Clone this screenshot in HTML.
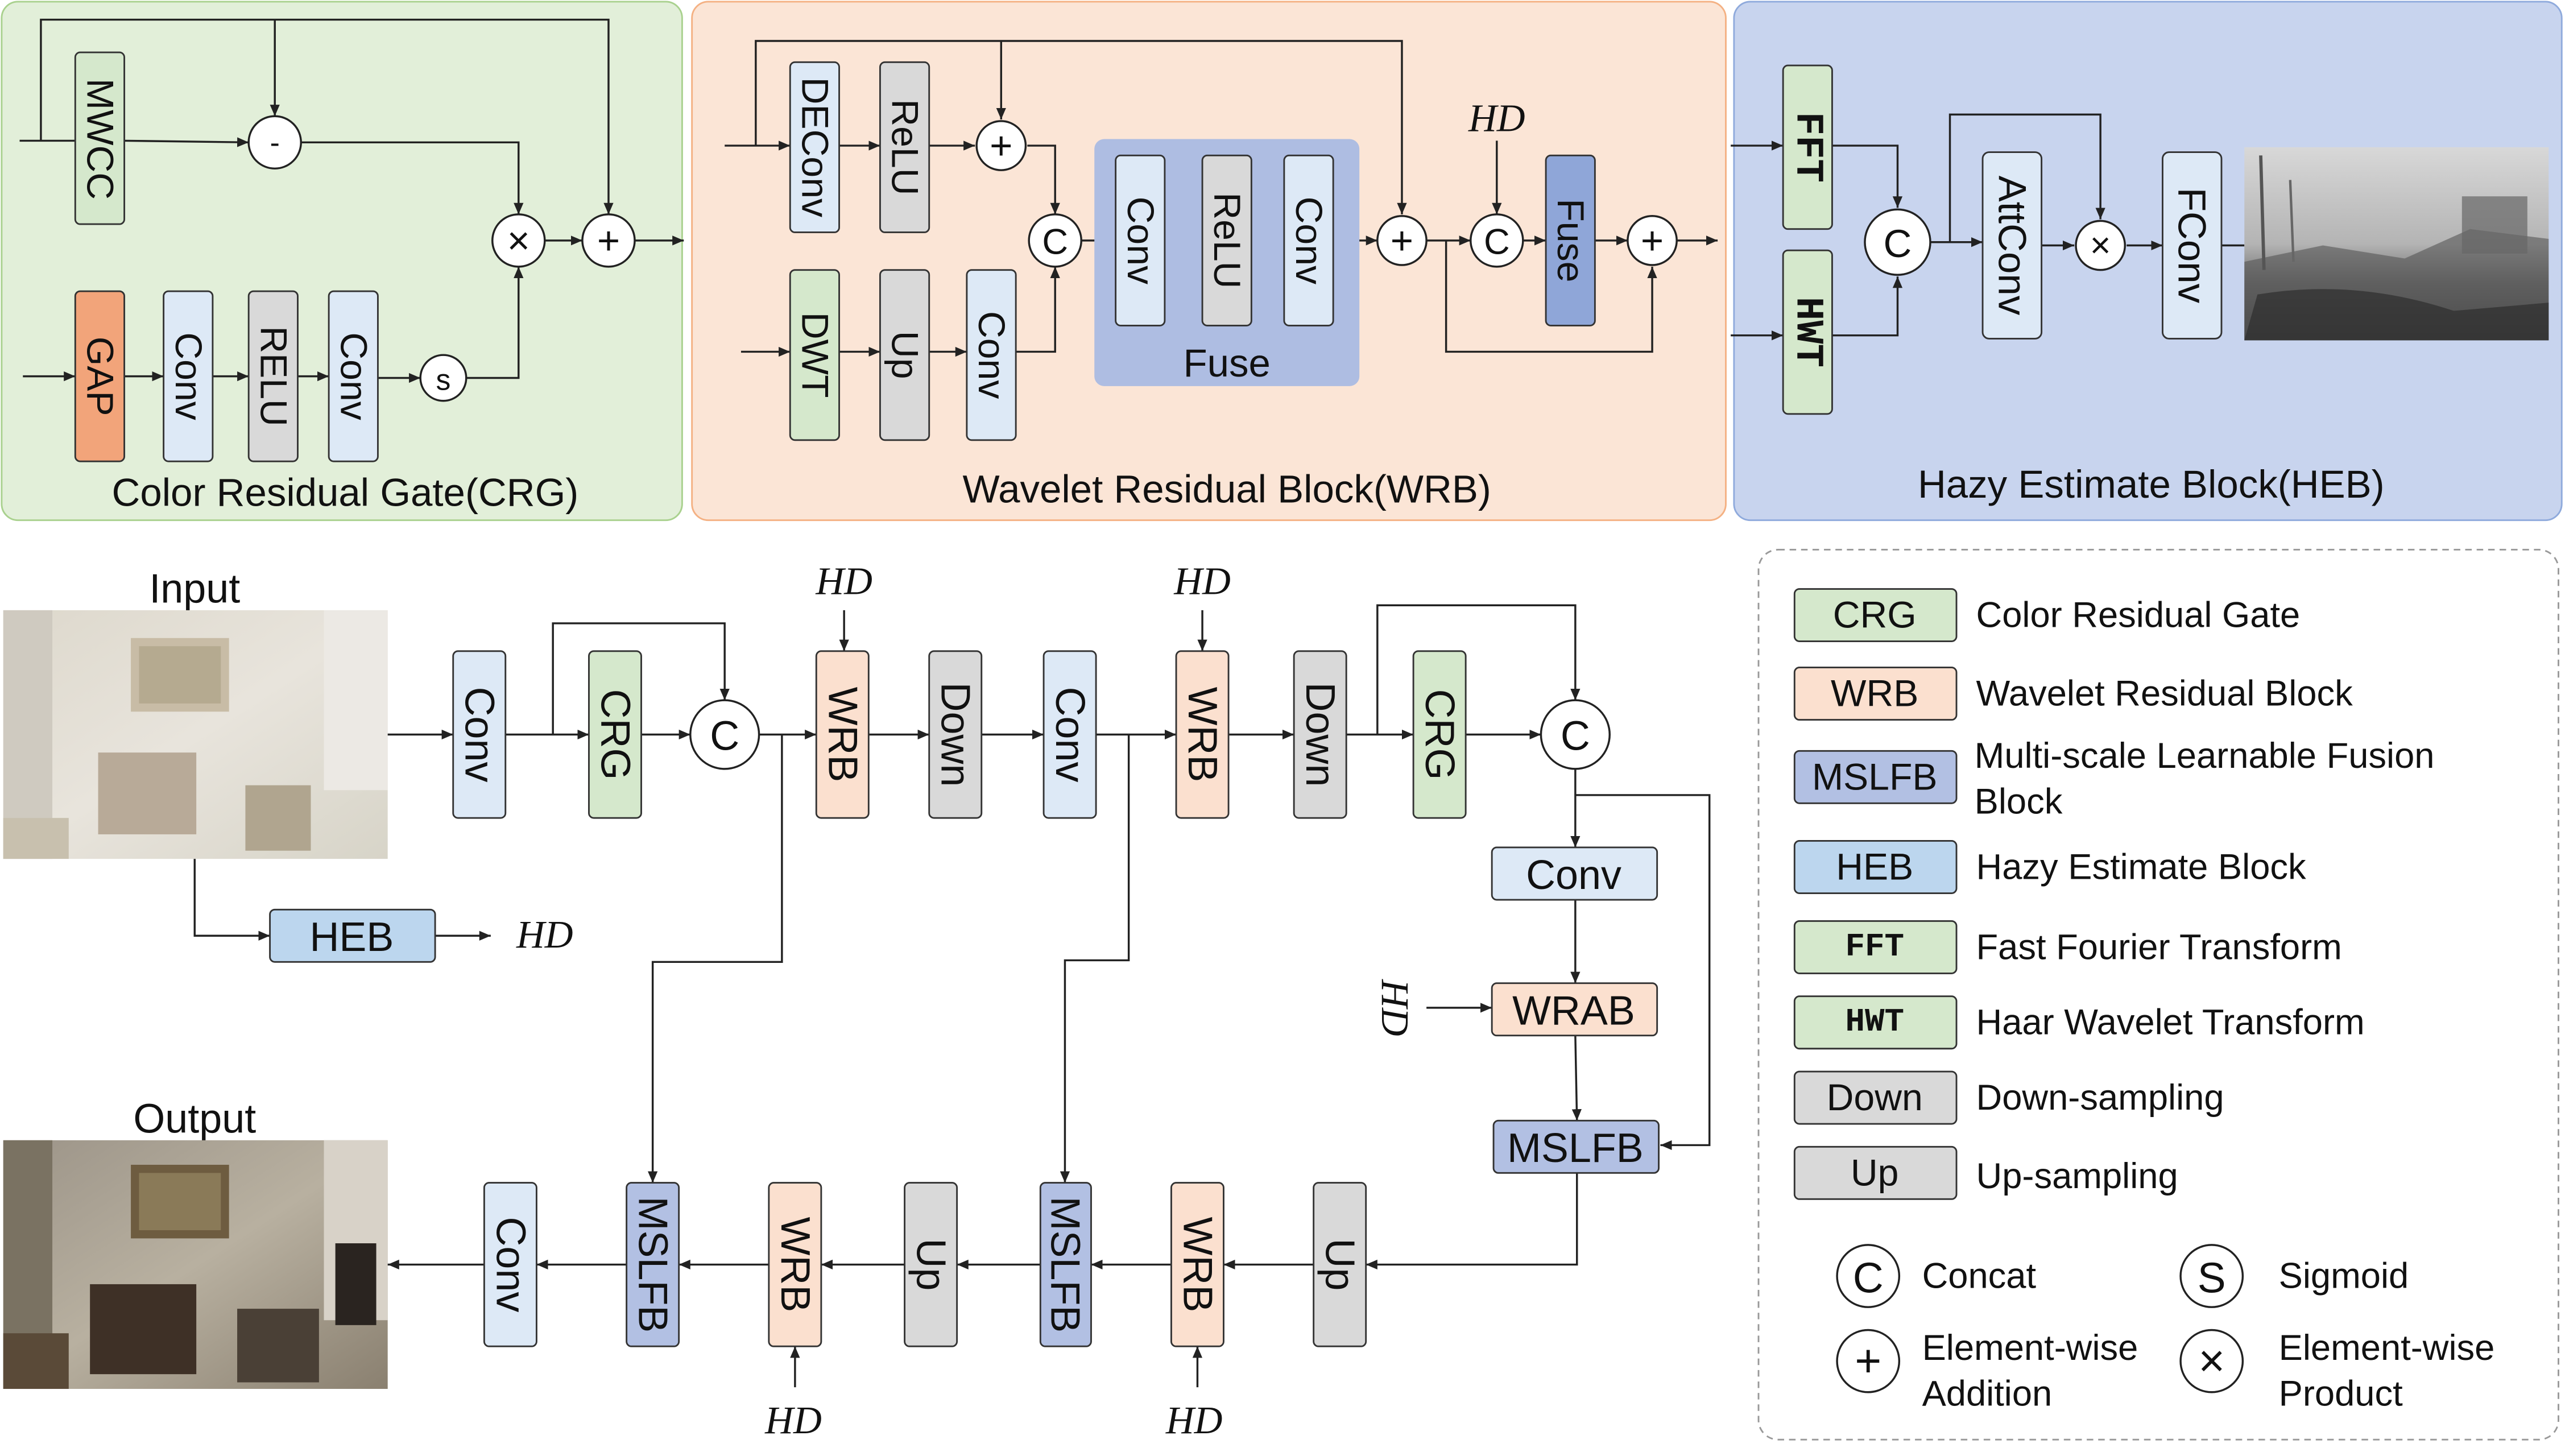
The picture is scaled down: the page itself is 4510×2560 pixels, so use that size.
<!DOCTYPE html>
<html><head><meta charset="utf-8"><style>
html,body{margin:0;padding:0;background:#fff;}
svg{display:block;}
text{font-family:"Liberation Sans",sans-serif;fill:#111;}
.v{text-anchor:middle;dominant-baseline:central;font-size:23px;}
.h{text-anchor:middle;dominant-baseline:central;font-size:23px;}
.hd{font-family:"Liberation Serif",serif;font-style:italic;font-size:24px;text-anchor:middle;dominant-baseline:central;}
.ln{stroke:#222;stroke-width:1.2;fill:none;}
.bx{stroke:#333;stroke-width:1;}
.g{fill:#d5e8cc;}.o{fill:#fbe0cf;}.b{fill:#dde9f6;}.gr{fill:#d9d9d9;}.m{fill:#b2c0e3;}.he{fill:#bcd6ee;}.ga{fill:#f2a47a;}
.c{fill:#fff;stroke:#222;stroke-width:1.2;}
.lg{font-size:22px;dominant-baseline:central;}
</style></head><body>
<svg width="4510" height="2560" viewBox="0 0 1568 890" xmlns="http://www.w3.org/2000/svg">
<defs>
<marker id="a" markerWidth="8" markerHeight="8" refX="7" refY="4" orient="auto" markerUnits="userSpaceOnUse"><path d="M0,1 L7,4 L0,7 z" fill="#222"/></marker>
<linearGradient id="hz" x1="0" y1="0" x2="0" y2="1"><stop offset="0" stop-color="#d8d8d8"/><stop offset="0.5" stop-color="#b4b4b4"/><stop offset="0.7" stop-color="#707070"/><stop offset="1" stop-color="#3a3a3a"/></linearGradient>
<linearGradient id="inp" x1="0" y1="0" x2="1" y2="1"><stop offset="0" stop-color="#ddd8cc"/><stop offset="0.5" stop-color="#e8e4dc"/><stop offset="1" stop-color="#d7d4c8"/></linearGradient>
<linearGradient id="out" x1="0" y1="0" x2="1" y2="1"><stop offset="0" stop-color="#9c9488"/><stop offset="0.5" stop-color="#b8b0a0"/><stop offset="1" stop-color="#8a8070"/></linearGradient>
</defs>

<!-- Panels -->
<rect x="1" y="1" width="416" height="317" rx="10" fill="#e2efd9" stroke="#a9d18e"/>
<rect x="423" y="1" width="632" height="317" rx="10" fill="#fbe5d6" stroke="#f4b183"/>
<rect x="1060" y="1" width="506" height="317" rx="10" fill="#c8d4ee" stroke="#8faadc"/>
<text class="h" x="211" y="301" style="font-size:24px">Color Residual Gate(CRG)</text>
<text class="h" x="750" y="299" style="font-size:24px">Wavelet Residual Block(WRB)</text>
<text class="h" x="1315" y="296" style="font-size:24px">Hazy Estimate Block(HEB)</text>

<!-- CRG -->
<polyline class="ln" points="25,86 25,12 372,12 372,131" marker-end="url(#a)"/>
<polyline class="ln" points="168,12 168,71" marker-end="url(#a)"/>
<polyline class="ln" points="12,86 46,86"/>
<polyline class="ln" points="76,86 152,87" marker-end="url(#a)"/>
<polyline class="ln" points="184,87 317,87 317,131" marker-end="url(#a)"/>
<polyline class="ln" points="14,230 46,230" marker-end="url(#a)"/>
<polyline class="ln" points="76,230 100,230" marker-end="url(#a)"/>
<polyline class="ln" points="130,230 152,230" marker-end="url(#a)"/>
<polyline class="ln" points="182,230 201,230" marker-end="url(#a)"/>
<polyline class="ln" points="231,231 257,231" marker-end="url(#a)"/>
<polyline class="ln" points="285,231 317,231 317,163" marker-end="url(#a)"/>
<polyline class="ln" points="333,147 356,147" marker-end="url(#a)"/>
<polyline class="ln" points="388,147 418,147" marker-end="url(#a)"/>
<rect class="bx g" x="46" y="32" width="30" height="105" rx="3"/><text class="v" transform="translate(61,85) rotate(90)">MWCC</text>
<rect class="bx ga" x="46" y="178" width="30" height="104" rx="3"/><text class="v" transform="translate(61,230) rotate(90)">GAP</text>
<rect class="bx b" x="100" y="178" width="30" height="104" rx="3"/><text class="v" transform="translate(115,230) rotate(90)">Conv</text>
<rect class="bx gr" x="152" y="178" width="30" height="104" rx="3"/><text class="v" transform="translate(167,230) rotate(90)">RELU</text>
<rect class="bx b" x="201" y="178" width="30" height="104" rx="3"/><text class="v" transform="translate(216,230) rotate(90)">Conv</text>
<circle class="c" cx="271" cy="231" r="14"/><text class="h" x="271" y="232" style="font-size:18px">s</text>
<circle class="c" cx="168" cy="87" r="16"/><text class="h" x="168" y="87" style="font-size:18px">-</text>
<circle class="c" cx="317" cy="147" r="16"/><text class="h" x="317" y="147" style="font-size:24px">×</text>
<circle class="c" cx="372" cy="147" r="16"/><text class="h" x="372" y="147" style="font-size:24px">+</text>

<!-- WRB -->
<polyline class="ln" points="462,89 462,25 857,25 857,131" marker-end="url(#a)"/>
<polyline class="ln" points="612,25 612,73" marker-end="url(#a)"/>
<polyline class="ln" points="443,89 483,89" marker-end="url(#a)"/>
<polyline class="ln" points="513,89 538,89" marker-end="url(#a)"/>
<polyline class="ln" points="568,89 596,89" marker-end="url(#a)"/>
<polyline class="ln" points="628,89 645,89 645,131" marker-end="url(#a)"/>
<polyline class="ln" points="453,215 483,215" marker-end="url(#a)"/>
<polyline class="ln" points="513,215 538,215" marker-end="url(#a)"/>
<polyline class="ln" points="568,215 591,215" marker-end="url(#a)"/>
<polyline class="ln" points="621,215 645,215 645,163" marker-end="url(#a)"/>
<polyline class="ln" points="661,147 682,147" marker-end="url(#a)"/>
<polyline class="ln" points="712,147 735,147" marker-end="url(#a)"/>
<polyline class="ln" points="765,147 785,147" marker-end="url(#a)"/>
<polyline class="ln" points="815,147 842,147" marker-end="url(#a)"/>
<polyline class="ln" points="872,147 899,147" marker-end="url(#a)"/>
<polyline class="ln" points="931,147 945,147" marker-end="url(#a)"/>
<polyline class="ln" points="975,147 995,147" marker-end="url(#a)"/>
<polyline class="ln" points="1025,147 1050,147" marker-end="url(#a)"/>
<polyline class="ln" points="884,147 884,215 1010,215 1010,163" marker-end="url(#a)"/>
<polyline class="ln" points="915,86 915,131" marker-end="url(#a)"/>
<text class="hd" x="915" y="72">HD</text>
<rect class="bx b" x="483" y="38" width="30" height="104" rx="3"/><text class="v" transform="translate(498,90) rotate(90)">DEConv</text>
<rect class="bx gr" x="538" y="38" width="30" height="104" rx="3"/><text class="v" transform="translate(553,90) rotate(90)">ReLU</text>
<circle class="c" cx="612" cy="89" r="15"/><text class="h" x="612" y="89" style="font-size:24px">+</text>
<rect class="bx g" x="483" y="165" width="30" height="104" rx="3"/><text class="v" transform="translate(498,217) rotate(90)">DWT</text>
<rect class="bx gr" x="538" y="165" width="30" height="104" rx="3"/><text class="v" transform="translate(553,217) rotate(90)">Up</text>
<rect class="bx b" x="591" y="165" width="30" height="104" rx="3"/><text class="v" transform="translate(606,217) rotate(90)">Conv</text>
<circle class="c" cx="645" cy="147" r="16"/><text class="h" x="645" y="148" style="font-size:22px">C</text>
<rect x="669" y="85" width="162" height="151" rx="6" fill="#aebde2"/>
<rect class="bx b" x="682" y="95" width="30" height="104" rx="3"/><text class="v" transform="translate(697,147) rotate(90)">Conv</text>
<rect class="bx gr" x="735" y="95" width="30" height="104" rx="3"/><text class="v" transform="translate(750,147) rotate(90)">ReLU</text>
<rect class="bx b" x="785" y="95" width="30" height="104" rx="3"/><text class="v" transform="translate(800,147) rotate(90)">Conv</text>
<text class="h" x="750" y="222" style="font-size:24px">Fuse</text>
<circle class="c" cx="857" cy="147" r="15"/><text class="h" x="857" y="147" style="font-size:24px">+</text>
<circle class="c" cx="915" cy="147" r="16"/><text class="h" x="915" y="148" style="font-size:22px">C</text>
<rect class="bx" x="945" y="95" width="30" height="104" rx="3" fill="#8fa6d8"/><text class="v" transform="translate(960,147) rotate(90)">Fuse</text>
<circle class="c" cx="1010" cy="147" r="15"/><text class="h" x="1010" y="147" style="font-size:24px">+</text>

<!-- HEB -->
<polyline class="ln" points="1058,89 1090,89" marker-end="url(#a)"/>
<polyline class="ln" points="1058,205 1090,205" marker-end="url(#a)"/>
<polyline class="ln" points="1120,89 1160,89 1160,127" marker-end="url(#a)"/>
<polyline class="ln" points="1120,205 1160,205 1160,169" marker-end="url(#a)"/>
<polyline class="ln" points="1180,148 1212,148" marker-end="url(#a)"/>
<polyline class="ln" points="1192,148 1192,70 1284,70 1284,134" marker-end="url(#a)"/>
<polyline class="ln" points="1248,150 1268,150" marker-end="url(#a)"/>
<polyline class="ln" points="1300,150 1322,150" marker-end="url(#a)"/>
<polyline class="ln" points="1358,150 1372,150"/>
<rect class="bx g" x="1090" y="40" width="30" height="100" rx="3"/><text class="v" transform="translate(1105,90) rotate(90)" style="font-family:'Liberation Mono',monospace;font-weight:bold;font-size:24px">FFT</text>
<rect class="bx g" x="1090" y="153" width="30" height="100" rx="3"/><text class="v" transform="translate(1105,203) rotate(90)" style="font-family:'Liberation Mono',monospace;font-weight:bold;font-size:24px">HWT</text>
<circle class="c" cx="1160" cy="148" r="20"/><text class="h" x="1160" y="149" style="font-size:24px">C</text>
<rect class="bx b" x="1212" y="93" width="36" height="114" rx="4"/><text class="v" transform="translate(1230,150) rotate(90)" style="font-size:24px">AttConv</text>
<circle class="c" cx="1284" cy="150" r="15"/><text class="h" x="1284" y="150" style="font-size:22px">×</text>
<rect class="bx b" x="1322" y="93" width="36" height="114" rx="4"/><text class="v" transform="translate(1340,150) rotate(90)" style="font-size:24px">FConv</text>
<rect x="1372" y="90" width="186" height="118" fill="url(#hz)"/>
<path d="M1372,160 L1420,150 L1470,158 L1510,140 L1558,146 L1558,208 L1372,208 z" fill="#555" opacity="0.6"/>
<path d="M1380,180 Q1440,170 1500,190 L1558,185 L1558,208 L1372,208 z" fill="#2e2e2e" opacity="0.7"/>
<line x1="1382" y1="95" x2="1384" y2="165" stroke="#555" stroke-width="2"/>
<line x1="1400" y1="110" x2="1402" y2="160" stroke="#666" stroke-width="1.5"/>
<rect x="1505" y="120" width="40" height="35" fill="#666" opacity="0.7"/>

<!-- Main -->
<text class="h" x="119" y="360" style="font-size:25px">Input</text>
<rect x="2" y="373" width="235" height="152" fill="url(#inp)"/>
<rect x="2" y="373" width="30" height="152" fill="#cfcac0"/>
<rect x="80" y="390" width="60" height="45" fill="#c8bca6"/>
<rect x="85" y="395" width="50" height="35" fill="#b5aa90"/>
<rect x="198" y="373" width="39" height="110" fill="#ece9e4"/>
<rect x="60" y="460" width="60" height="50" fill="#b8aa98"/>
<rect x="150" y="480" width="40" height="40" fill="#b0a58f"/>
<rect x="2" y="500" width="40" height="25" fill="#c8c0ae"/>
<text class="h" x="119" y="684" style="font-size:25px">Output</text>
<rect x="2" y="697" width="235" height="152" fill="url(#out)"/>
<rect x="2" y="697" width="30" height="152" fill="#7a7262"/>
<rect x="80" y="712" width="60" height="45" fill="#6e5c40"/>
<rect x="85" y="717" width="50" height="35" fill="#8a7a58"/>
<rect x="198" y="697" width="39" height="110" fill="#d8d2c8"/>
<rect x="55" y="785" width="65" height="55" fill="#3e3026"/>
<rect x="145" y="800" width="50" height="45" fill="#4a4036"/>
<rect x="2" y="815" width="40" height="34" fill="#5a4a38"/>
<rect x="205" y="760" width="25" height="50" fill="#2a2420"/>

<polyline class="ln" points="237,449 277,449" marker-end="url(#a)"/>
<polyline class="ln" points="309,449 360,449" marker-end="url(#a)"/>
<polyline class="ln" points="338,449 338,381 443,381 443,428" marker-end="url(#a)"/>
<polyline class="ln" points="392,449 422,449" marker-end="url(#a)"/>
<polyline class="ln" points="464,449 499,449" marker-end="url(#a)"/>
<polyline class="ln" points="531,449 568,449" marker-end="url(#a)"/>
<polyline class="ln" points="600,449 638,449" marker-end="url(#a)"/>
<polyline class="ln" points="670,449 719,449" marker-end="url(#a)"/>
<polyline class="ln" points="751,449 791,449" marker-end="url(#a)"/>
<polyline class="ln" points="823,449 864,449" marker-end="url(#a)"/>
<polyline class="ln" points="842,449 842,370 963,370 963,428" marker-end="url(#a)"/>
<polyline class="ln" points="896,449 942,449" marker-end="url(#a)"/>
<polyline class="ln" points="516,373 516,398" marker-end="url(#a)"/>
<polyline class="ln" points="735,373 735,398" marker-end="url(#a)"/>
<text class="hd" x="516" y="355">HD</text>
<text class="hd" x="735" y="355">HD</text>
<polyline class="ln" points="963,470 963,518" marker-end="url(#a)"/>
<polyline class="ln" points="963,550 963,601" marker-end="url(#a)"/>
<polyline class="ln" points="963,633 964,685" marker-end="url(#a)"/>
<polyline class="ln" points="963,486 1045,486 1045,700 1015,700" marker-end="url(#a)"/>
<polyline class="ln" points="872,616 912,616" marker-end="url(#a)"/>
<text class="hd" transform="translate(853,616) rotate(90)">HD</text>
<polyline class="ln" points="964,717 964,773 835,773" marker-end="url(#a)"/>
<polyline class="ln" points="803,773 748,773" marker-end="url(#a)"/>
<polyline class="ln" points="716,773 667,773" marker-end="url(#a)"/>
<polyline class="ln" points="636,773 585,773" marker-end="url(#a)"/>
<polyline class="ln" points="553,773 502,773" marker-end="url(#a)"/>
<polyline class="ln" points="470,773 415,773" marker-end="url(#a)"/>
<polyline class="ln" points="383,773 328,773" marker-end="url(#a)"/>
<polyline class="ln" points="296,773 237,773" marker-end="url(#a)"/>
<polyline class="ln" points="478,449 478,588 399,588 399,723" marker-end="url(#a)"/>
<polyline class="ln" points="690,449 690,587 651,587 651,723" marker-end="url(#a)"/>
<polyline class="ln" points="732,848 732,823" marker-end="url(#a)"/>
<polyline class="ln" points="486,848 486,823" marker-end="url(#a)"/>
<text class="hd" x="730" y="868">HD</text>
<text class="hd" x="485" y="868">HD</text>
<polyline class="ln" points="119,525 119,572 165,572" marker-end="url(#a)"/>
<polyline class="ln" points="266,572 300,572" marker-end="url(#a)"/>
<text class="hd" x="333" y="571">HD</text>

<rect class="bx b" x="277" y="398" width="32" height="102" rx="3"/><text class="v" transform="translate(293,449) rotate(90)" style="font-size:25px">Conv</text>
<rect class="bx g" x="360" y="398" width="32" height="102" rx="3"/><text class="v" transform="translate(376,449) rotate(90)" style="font-size:25px">CRG</text>
<circle class="c" cx="443" cy="449" r="21"/><text class="h" x="443" y="450" style="font-size:25px">C</text>
<rect class="bx o" x="499" y="398" width="32" height="102" rx="3"/><text class="v" transform="translate(515,449) rotate(90)" style="font-size:25px">WRB</text>
<rect class="bx gr" x="568" y="398" width="32" height="102" rx="3"/><text class="v" transform="translate(584,449) rotate(90)" style="font-size:25px">Down</text>
<rect class="bx b" x="638" y="398" width="32" height="102" rx="3"/><text class="v" transform="translate(654,449) rotate(90)" style="font-size:25px">Conv</text>
<rect class="bx o" x="719" y="398" width="32" height="102" rx="3"/><text class="v" transform="translate(735,449) rotate(90)" style="font-size:25px">WRB</text>
<rect class="bx gr" x="791" y="398" width="32" height="102" rx="3"/><text class="v" transform="translate(807,449) rotate(90)" style="font-size:25px">Down</text>
<rect class="bx g" x="864" y="398" width="32" height="102" rx="3"/><text class="v" transform="translate(880,449) rotate(90)" style="font-size:25px">CRG</text>
<circle class="c" cx="963" cy="449" r="21"/><text class="h" x="963" y="450" style="font-size:25px">C</text>
<rect class="bx b" x="912" y="518" width="101" height="32" rx="3"/><text class="h" x="962" y="535" style="font-size:25px">Conv</text>
<rect class="bx o" x="912" y="601" width="101" height="32" rx="3"/><text class="h" x="962" y="618" style="font-size:25px">WRAB</text>
<rect class="bx m" x="913" y="685" width="101" height="32" rx="3"/><text class="h" x="963" y="702" style="font-size:25px">MSLFB</text>
<rect class="bx he" x="165" y="556" width="101" height="32" rx="3"/><text class="h" x="215" y="573" style="font-size:25px">HEB</text>

<rect class="bx gr" x="803" y="723" width="32" height="100" rx="3"/><text class="v" transform="translate(819,773) rotate(90)" style="font-size:25px">Up</text>
<rect class="bx o" x="716" y="723" width="32" height="100" rx="3"/><text class="v" transform="translate(732,773) rotate(90)" style="font-size:25px">WRB</text>
<rect class="bx m" x="636" y="723" width="31" height="100" rx="3"/><text class="v" transform="translate(651,773) rotate(90)" style="font-size:25px">MSLFB</text>
<rect class="bx gr" x="553" y="723" width="32" height="100" rx="3"/><text class="v" transform="translate(569,773) rotate(90)" style="font-size:25px">Up</text>
<rect class="bx o" x="470" y="723" width="32" height="100" rx="3"/><text class="v" transform="translate(486,773) rotate(90)" style="font-size:25px">WRB</text>
<rect class="bx m" x="383" y="723" width="32" height="100" rx="3"/><text class="v" transform="translate(399,773) rotate(90)" style="font-size:25px">MSLFB</text>
<rect class="bx b" x="296" y="723" width="32" height="100" rx="3"/><text class="v" transform="translate(312,773) rotate(90)" style="font-size:25px">Conv</text>

<!-- Legend -->
<rect x="1075" y="336" width="489" height="544" rx="12" fill="none" stroke="#999" stroke-dasharray="4,3"/>
<rect class="bx g" x="1097" y="360" width="99" height="32" rx="3"/><text class="h" x="1146" y="376">CRG</text><text class="lg" x="1208" y="376">Color Residual Gate</text>
<rect class="bx o" x="1097" y="408" width="99" height="32" rx="3"/><text class="h" x="1146" y="424">WRB</text><text class="lg" x="1208" y="424">Wavelet Residual Block</text>
<rect class="bx m" x="1097" y="459" width="99" height="32" rx="3"/><text class="h" x="1146" y="475">MSLFB</text><text class="lg" x="1207" y="462">Multi-scale Learnable Fusion</text><text class="lg" x="1207" y="490">Block</text>
<rect class="bx he" x="1097" y="514" width="99" height="32" rx="3"/><text class="h" x="1146" y="530">HEB</text><text class="lg" x="1208" y="530">Hazy Estimate Block</text>
<rect class="bx g" x="1097" y="563" width="99" height="32" rx="3"/><text class="h" x="1146" y="579" style="font-family:'Liberation Mono',monospace;font-weight:bold;font-size:20px">FFT</text><text class="lg" x="1208" y="579">Fast Fourier Transform</text>
<rect class="bx g" x="1097" y="609" width="99" height="32" rx="3"/><text class="h" x="1146" y="625" style="font-family:'Liberation Mono',monospace;font-weight:bold;font-size:20px">HWT</text><text class="lg" x="1208" y="625">Haar Wavelet Transform</text>
<rect class="bx gr" x="1097" y="655" width="99" height="32" rx="3"/><text class="h" x="1146" y="671">Down</text><text class="lg" x="1208" y="671">Down-sampling</text>
<rect class="bx gr" x="1097" y="701" width="99" height="32" rx="3"/><text class="h" x="1146" y="717">Up</text><text class="lg" x="1208" y="719">Up-sampling</text>
<circle class="c" cx="1142" cy="780" r="19"/><text class="h" x="1142" y="781" style="font-size:26px">C</text><text class="lg" x="1175" y="780">Concat</text>
<circle class="c" cx="1352" cy="780" r="19"/><text class="h" x="1352" y="781" style="font-size:26px">S</text><text class="lg" x="1393" y="780">Sigmoid</text>
<circle class="c" cx="1142" cy="832" r="19"/><text class="h" x="1142" y="832" style="font-size:28px">+</text><text class="lg" x="1175" y="824">Element-wise</text><text class="lg" x="1175" y="852">Addition</text>
<circle class="c" cx="1352" cy="832" r="19"/><text class="h" x="1352" y="832" style="font-size:28px">×</text><text class="lg" x="1393" y="824">Element-wise</text><text class="lg" x="1393" y="852">Product</text>
</svg>
</body></html>
